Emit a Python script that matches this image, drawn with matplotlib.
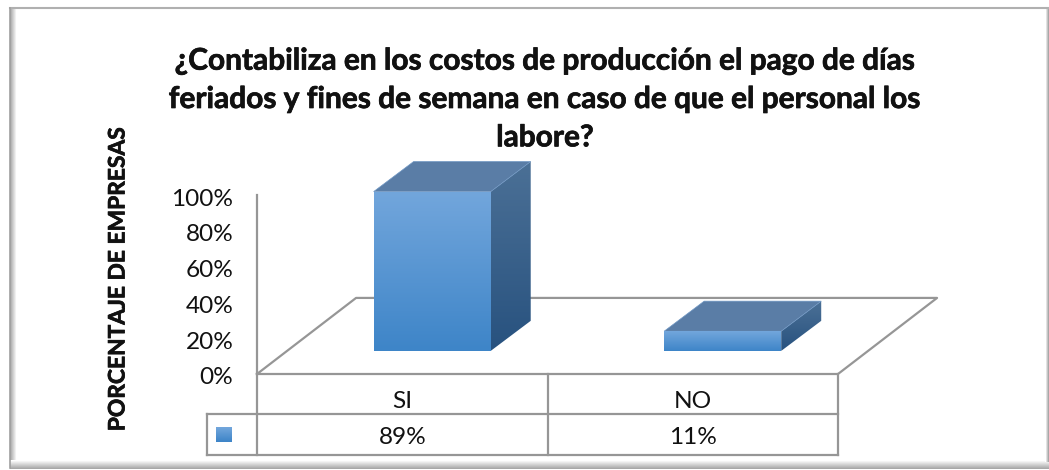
import numpy as np
import matplotlib
matplotlib.use("Agg")
import matplotlib.pyplot as plt
import matplotlib.patheffects as pe
from matplotlib.colors import LinearSegmentedColormap
from matplotlib.patches import Polygon
from matplotlib.transforms import ScaledTranslation

W, H = 1049, 470
plt.rcParams['font.family'] = ['Lato', 'DejaVu Sans']

title = "¿Contabiliza en los costos de producción el pago de días\nferiados y fines de semana en caso de que el personal los\nlabore?"
ylabel = "PORCENTAJE DE EMPRESAS"
categories = ["SI", "NO"]
values = [89, 11]
value_labels = ["89%", "11%"]
y_ticks = [0, 20, 40, 60, 80, 100]

fig = plt.figure(figsize=(W / 100, H / 100), dpi=100, facecolor="white")

# Frame (bevel) drawn in figure-pixel space
bg = fig.add_axes([0, 0, 1, 1], zorder=0)
bg.axis("off")
bevel = LinearSegmentedColormap.from_list("b", ["#a8a8a8", "#ffffff"])
bg.imshow(np.linspace(0, 1, 8)[None, :], cmap=bevel, extent=(10, 17, 462, 8), aspect="auto", zorder=1)
bg.imshow(np.linspace(1, 0, 10)[:, None], cmap=bevel, extent=(10, 1049, 469, 460), aspect="auto", zorder=1)
bg.imshow(np.linspace(1, 0, 4)[None, :], cmap=bevel, extent=(1045, 1049, 462, 8), aspect="auto", zorder=1)
bg.plot([10, 1049], [8, 8], color="#b0b0b0", lw=1.5, zorder=2)
bg.plot([10, 10], [8, 468], color="#a0a0a0", lw=1.2, zorder=2)
bg.set_xlim(0, W); bg.set_ylim(H, 0)

# Plot axes: x in categories, y in percent
L, R, T, B = 257, 838, 195, 374
ax = fig.add_axes([L / W, 1 - B / H, (R - L) / W, (B - T) / H], zorder=1)
ax.patch.set_alpha(0)
for s in ax.spines.values():
    s.set_visible(False)
ax.set_xticks([])
ax.set_yticks(y_ticks, [f"{t}%" for t in y_ticks], fontsize=17.6)
ax.tick_params(axis="y", length=0, pad=17, colors="#111111")
shift = ScaledTranslation(0, -2 / 72 * 0.72, fig.dpi_scale_trans)
for lab in ax.get_yticklabels():
    lab.set_transform(lab.get_transform() + shift)
GRAY = "#969696"
LW = 1.6
ln = dict(color=GRAY, lw=LW, clip_on=False, solid_capstyle="projecting")

# floor
fx, fy = 0.341, 42.5
ax.plot([0, 0], [0, 100], **ln)
ax.plot([0, fx, 2 + fx, 2, 0], [0, fy, fy, 0, 0], zorder=1, **ln)

# table under the plot
r1, r2 = -22.4, -45.3
leg = -0.172
ax.plot([0, 0], [0, r2], **ln)
ax.plot([1, 1], [0, r2], **ln)
ax.plot([2, 2], [0, r2], **ln)
ax.plot([leg, 2], [r1, r1], **ln)
ax.plot([leg, 2], [r2, r2], **ln)
ax.plot([leg, leg], [r1, r2], **ln)
for i, (c, v) in enumerate(zip(categories, value_labels)):
    ax.text(i + 0.5, -15.1, c, ha="center", va="center", fontsize=17.6, color="#111111", clip_on=False)
    ax.text(i + 0.5, -35.7, v, ha="center", va="center", fontsize=17.6, color="#111111", clip_on=False)

def gradient(xy, c0, c1, z):
    poly = Polygon(xy, closed=True, transform=ax.transData, facecolor="none", edgecolor="none", clip_on=False)
    ax.add_patch(poly)
    xs, ys = zip(*xy)
    cm = LinearSegmentedColormap.from_list("g", [c0, c1])
    im = ax.imshow(np.linspace(0, 1, 64)[:, None], cmap=cm, aspect="auto",
                   extent=(min(xs), max(xs), min(ys), max(ys)), origin="upper", zorder=z)
    im.set_clip_box(fig.bbox)
    im.set_clip_path(poly)

base, bw, dx, dy = 12.9, 0.403, 0.1377, 16.8
for i, v in enumerate(values):
    x0 = i + 0.603 - bw / 2
    x1 = x0 + bw
    b, t = base, base + v
    gradient([(x0, b), (x1, b), (x1, t), (x0, t)], "#72A6DC", "#3E85C8", 5)
    gradient([(x1, b), (x1 + dx, b + dy), (x1 + dx, t + dy), (x1, t)], "#4B7096", "#28527F", 4)
    ax.add_patch(Polygon([(x0, t), (x1, t), (x1 + dx, t + dy), (x0 + dx, t + dy)], closed=True,
                         facecolor="#5A7DA6", edgecolor="#6f97c4", lw=0.5, zorder=4, clip_on=False))

# legend key
kx0, kx1 = -0.141, -0.086
ky0, ky1 = -29.6, -37.9
ax.imshow(np.linspace(0, 1, 16)[:, None], cmap=LinearSegmentedColormap.from_list("k", ["#72A6DC", "#3E85C8"]),
          aspect="auto", extent=(kx0, kx1, ky1, ky0), origin="upper", zorder=5, clip_on=False)
ax.set_xlim(0, len(categories)); ax.set_ylim(0, 100)

thick = [pe.withStroke(linewidth=0.5, foreground="#111111")]
fig.text(545 / W, 1 - 99 / H, title, ha="center", va="center", fontsize=21.5, fontweight="bold",
         color="#111111", linespacing=1.45, path_effects=thick)
fig.text(118 / W, 1 - 279 / H, ylabel, rotation=90, ha="center", va="center", fontsize=16.4,
         fontweight="bold", color="#111111", path_effects=thick)

fig.savefig("out.png", dpi=100, facecolor="white")
